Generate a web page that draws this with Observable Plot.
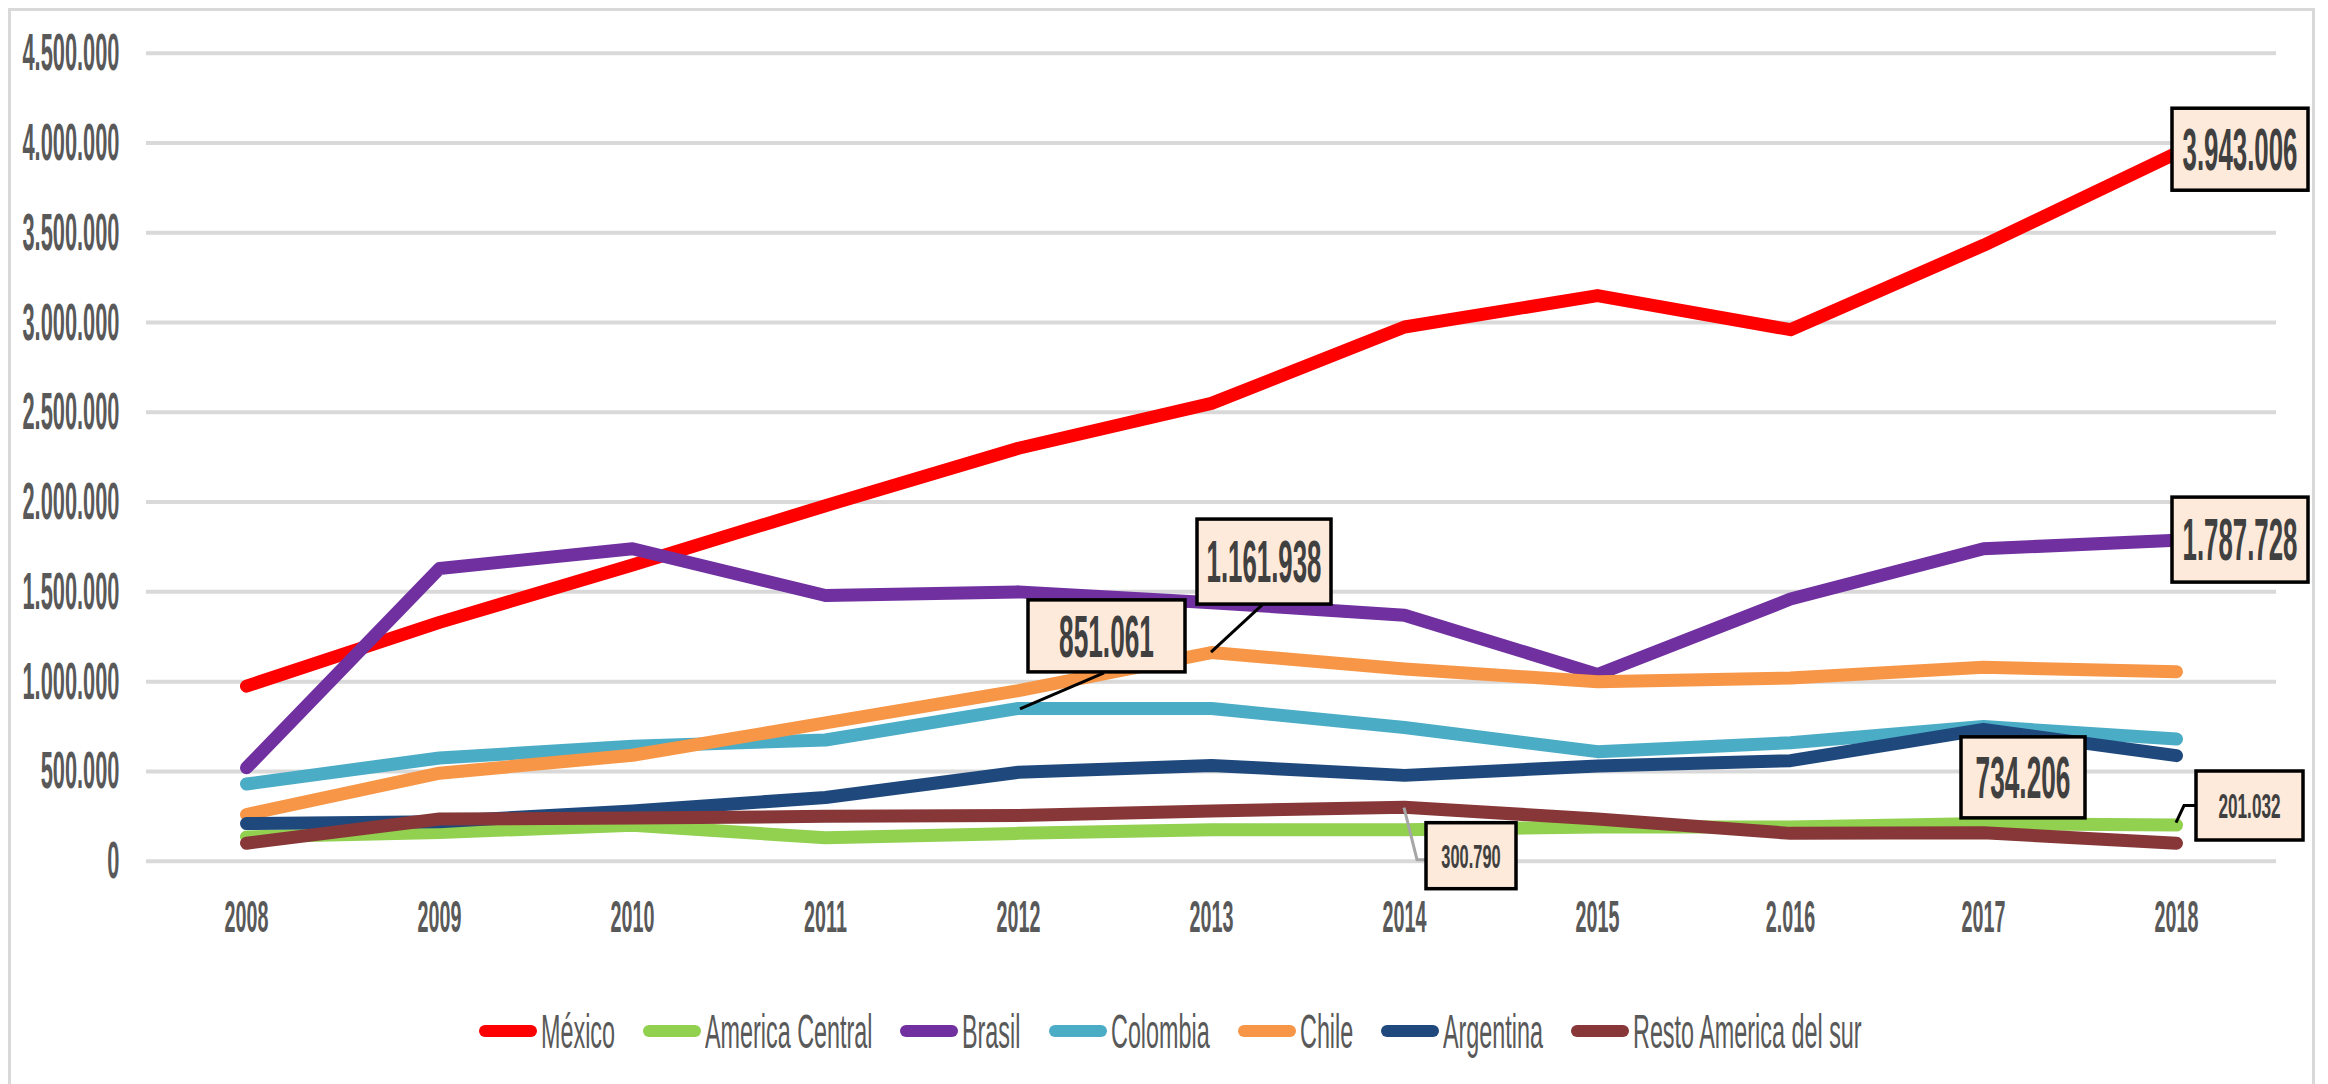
<!DOCTYPE html>
<html>
<head>
<meta charset="utf-8">
<script src="https://cdn.jsdelivr.net/npm/d3@7"></script>
<script src="https://cdn.jsdelivr.net/npm/@observablehq/plot@0.6"></script>
<style>
  body { margin: 0; background: #fff; }
  #wrap { position: relative; width: 2328px; height: 1084px; overflow: hidden;
          font-family: "Liberation Sans", Arial, sans-serif; }
  #border { position: absolute; left: 8px; top: 8px; width: 2307px; height: 1120px;
            border: 3px solid #d9d9d9; box-sizing: border-box; pointer-events: none; }
  #legend { display: flex; justify-content: center; align-items: center; width: 2340px;
            margin-top: 31px; height: 40px; }
  .item { display: flex; align-items: center; margin: 0 14px; }
  .sw { width: 58px; height: 12px; border-radius: 6px; margin-right: 4px; }
  .lab { font-size: 28.5px; color: #595959; display: inline-block; white-space: nowrap;
         transform-origin: left center; transform: scale(0.82, 1.72); }
</style>
</head>
<body>
<div id="wrap">
  <div id="chart"></div>
  <div id="legend"></div>
  <div id="border"></div>
</div>
<script>
// ---- data ----
const years = ["2008","2009","2010","2011","2012","2013","2014","2015","2.016","2017","2018"];
const seriesNames = ["México","America Central","Brasil","Colombia","Chile","Argentina","Resto America del sur"];
const seriesColors = ["#FF0000","#92D050","#7030A0","#4BACC6","#F79646","#1F497D","#873737"];
const mexico         = [975000,1330000,1650000,1980000,2300000,2550000,2975000,3150000,2960000,3430000,3943006];
const americaCentral = [135000,160000,200000,130000,155000,175000,175000,190000,190000,210000,201032];
const brasil         = [520000,1630000,1740000,1480000,1500000,1440000,1370000,1040000,1460000,1740000,1787728];
const colombia       = [430000,575000,640000,675000,851061,850000,745000,610000,660000,750000,680000];
const chile          = [260000,490000,590000,770000,950000,1161938,1070000,1000000,1020000,1080000,1055000];
const argentina      = [210000,220000,280000,355000,495000,533000,478000,530000,560000,734206,588000];
const resto          = [100000,235000,240000,250000,255000,280000,300790,235000,155000,158000,100000];
const yTicks = [0,500000,1000000,1500000,2000000,2500000,3000000,3500000,4000000,4500000];

const seriesValues = [mexico, americaCentral, brasil, colombia, chile, argentina, resto];
const rows = seriesNames.flatMap((s, i) => years.map((y, j) => ({series: s, year: y, value: seriesValues[i][j]})));

const fmt = d3.formatLocale({decimal: ",", thousands: ".", grouping: [3], currency: ["", ""]}).format(",");

// ---- chart ----
const W = 2328, H = 980;
const chart = Plot.plot({
  width: W, height: H,
  marginLeft: 146, marginRight: 52, marginTop: 52.7, marginBottom: H - 860.7,
  style: {fontFamily: '"Liberation Sans", Arial, sans-serif', color: "#595959", background: "transparent"},
  x: {type: "point", domain: years, padding: 0.5, label: null},
  y: {domain: [0, 4500000], label: null},
  color: {domain: seriesNames, range: seriesColors},
  marks: [
    Plot.gridY(yTicks, {stroke: "#d9d9d9", strokeOpacity: 1, strokeWidth: 4}),
    Plot.axisY(yTicks, {tickSize: 0, tickPadding: 27, tickFormat: fmt, fontSize: 26.6, fontWeight: "bold", label: null}),
    Plot.axisX({tickSize: 0, tickPadding: 47, fontSize: 24.1, fontWeight: "bold", label: null}),
    Plot.line(rows, {x: "year", y: "value", z: "series", stroke: "series",
      strokeWidth: 13, strokeLinecap: "round", strokeLinejoin: "round"})
  ]
});
document.getElementById("chart").appendChild(chart);

const svg = d3.select(chart);
// condensed, tall glyphs: scale each label about its anchor
function stretch(sel, sx, sy, anchor) {
  sel.each(function () {
    const b = this.getBBox();
    const cx = anchor === "end" ? b.x + b.width : b.x + b.width / 2;
    const cy = b.y + b.height / 2;
    const t = this.getAttribute("transform") || "";
    this.setAttribute("transform", `${t} translate(${cx},${cy}) scale(${sx},${sy}) translate(${-cx},${-cy})`);
  });
}
stretch(svg.selectAll('[aria-label^="y-axis"] text'), 0.82, 1.94, "end");
stretch(svg.selectAll('[aria-label^="x-axis"] text'), 0.82, 1.84, "middle");

// ---- annotations (data labels) ----
const xs = chart.scale("x"), ys = chart.scale("y");
const notes = [
  {series: "México", year: "2018", bx: -4, by: -44.5, w: 136, h: 82, fs: 31.5, sy: 1.86, leader: null},
  {series: "Brasil", year: "2018", bx: -4, by: -42.6, w: 136, h: 85, fs: 31.5, sy: 1.86, leader: null},
  {series: "Chile", year: "2013", bx: -14, by: -133, w: 134, h: 85, fs: 31.5, sy: 1.86, leader: [[52, -48], [0, 0]], lc: "#000"},
  {series: "Colombia", year: "2012", bx: 10, by: -108, w: 157, h: 72, fs: 32, sy: 1.86, leader: [[86, -35], [2, 1]], lc: "#000"},
  {series: "Argentina", year: "2017", bx: -22, by: 8, w: 124, h: 81, fs: 32, sy: 1.86, leader: null},
  {series: "America Central", year: "2018", bx: 20, by: -53.6, w: 107, h: 69, fs: 21, sy: 1.66, leader: [[0, -2], [8, -19], [20, -19]], lc: "#000"},
  {series: "Resto America del sur", year: "2014", bx: 22, by: 16, w: 90, h: 66, fs: 20, sy: 1.66, leader: [[0, 1], [13, 53], [22, 53]], lc: "#a6a6a6"}
];
const g = svg.append("g").attr("class", "notes");
notes.forEach(n => {
  const i = seriesNames.indexOf(n.series), j = years.indexOf(n.year);
  const v = seriesValues[i][j];
  const px = xs.apply(n.year), py = ys.apply(v);
  if (n.leader) {
    g.append("path")
      .attr("d", d3.line()(n.leader.map(([dx, dy]) => [px + dx, py + dy])))
      .attr("fill", "none").attr("stroke", n.lc).attr("stroke-width", 3);
  }
  const x0 = px + n.bx, y0 = py + n.by;
  g.append("rect").attr("x", x0).attr("y", y0).attr("width", n.w).attr("height", n.h)
    .attr("fill", "#FDEADA").attr("stroke", "#000").attr("stroke-width", 3.5);
  const t = g.append("text").attr("x", x0 + n.w / 2).attr("y", y0 + n.h / 2)
    .attr("dy", "0.36em").attr("text-anchor", "middle")
    .attr("font-size", n.fs).attr("font-weight", "bold").attr("fill", "#404040")
    .text(fmt(v));
  stretch(t, 0.82, n.sy, "middle");
});

// ---- legend ----
const legend = d3.select("#legend");
seriesNames.forEach((s, i) => {
  const it = legend.append("div").attr("class", "item");
  it.append("div").attr("class", "sw").style("background", seriesColors[i]);
  const lab = it.append("span").attr("class", "lab").text(s);
  const w = lab.node().offsetWidth;
  lab.style("margin-right", `${-(1 - 0.82) * w}px`);
});
</script>
</body>
</html>
